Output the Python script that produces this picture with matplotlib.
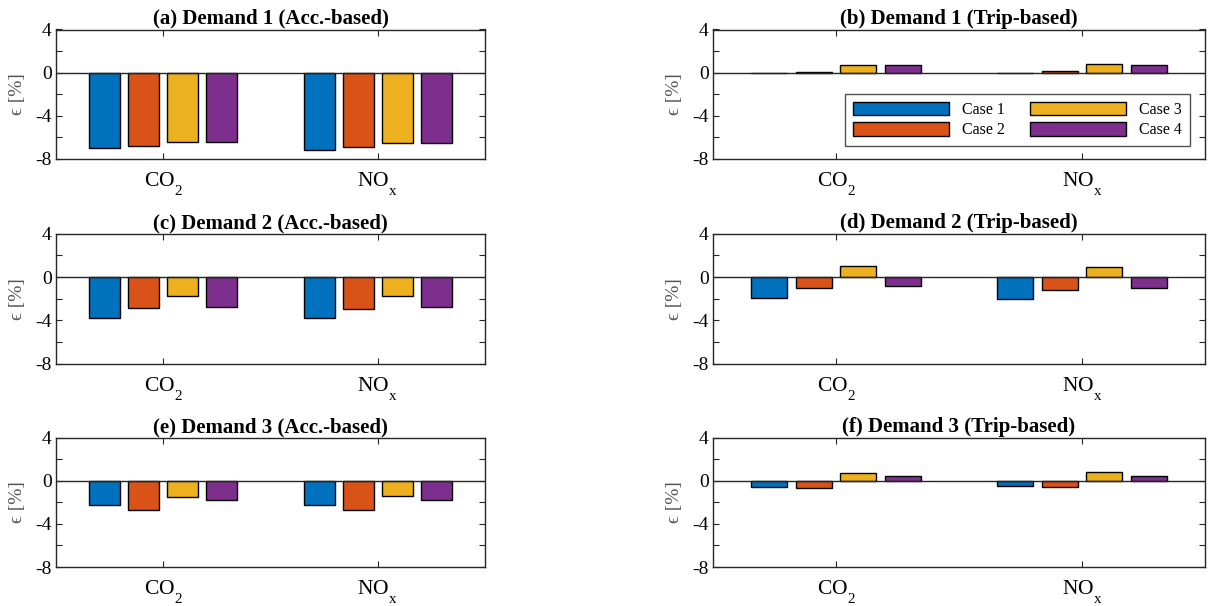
import numpy as np
import matplotlib
matplotlib.use("Agg")
import matplotlib.pyplot as plt
from matplotlib.patches import Patch
import matplotlib._mathtext as _mt

plt.rcParams['font.family'] = ['Liberation Serif', 'DejaVu Serif']
plt.rcParams['mathtext.fontset'] = 'custom'
plt.rcParams['mathtext.rm'] = 'Liberation Serif'
plt.rcParams['mathtext.it'] = 'Liberation Serif:italic'
plt.rcParams['mathtext.bf'] = 'Liberation Serif:bold'
plt.rcParams['axes.unicode_minus'] = False
# lower subscripts a bit more (MATLAB-like)
_mt.FontConstantsBase.sub1 = 0.9
_mt.FontConstantsBase.subdrop = 0.9

categories = ['CO$_2$', 'NO$_{\\mathrm{x}}$']
cases = ['Case 1', 'Case 2', 'Case 3', 'Case 4']
colors = ['#0072BD', '#D95319', '#EDB120', '#7E2F8E']

titles = ['(a) Demand 1 (Acc.-based)', '(b) Demand 1 (Trip-based)',
          '(c) Demand 2 (Acc.-based)', '(d) Demand 2 (Trip-based)',
          '(e) Demand 3 (Acc.-based)', '(f) Demand 3 (Trip-based)']
ylabel = '\u03f5 [%]'

# rows: categories (CO2, NOx); columns: Case 1..4
d1_acc = [[-7.0, -6.8, -6.45, -6.45], [-7.15, -6.88, -6.5, -6.5]]
d1_trip = [[-0.03, 0.04, 0.72, 0.66], [-0.02, 0.15, 0.78, 0.72]]
d2_acc = [[-3.8, -2.9, -1.76, -2.81], [-3.77, -2.96, -1.76, -2.78]]
d2_trip = [[-1.94, -1.03, 1.03, -0.81], [-2.0, -1.22, 0.88, -1.0]]
d3_acc = [[-2.28, -2.69, -1.48, -1.79], [-2.28, -2.69, -1.45, -1.79]]
d3_trip = [[-0.53, -0.66, 0.75, 0.41], [-0.47, -0.62, 0.78, 0.44]]

datasets = [d1_acc, d1_trip, d2_acc, d2_trip, d3_acc, d3_trip]

yticks = [-8, -6, -4, -2, 0, 2, 4]
yticklabels = ['-8', '', '-4', '', '0', '', '4']

W, H = 1218, 606
fig = plt.figure(figsize=(W / 100, H / 100), dpi=100)

col_px = [(56, 485), (713, 1205)]
row_px = [(29.5, 158.7), (233.7, 363.7), (437.7, 567.0)]

txt = '#262626'
nb = len(cases)
gw = min(0.8, nb / (nb + 1.5))
bw = gw / nb * 0.8
xc = np.arange(1, len(categories) + 1)

for i, data in enumerate(datasets):
    r, c = divmod(i, 2)
    x0, x1 = col_px[c]
    yt, yb = row_px[r]
    ax = fig.add_axes([x0 / W, 1 - yb / H, (x1 - x0) / W, (yb - yt) / H])
    arr = np.array(data)
    for j in range(nb):
        off = -gw / 2 + (2 * j + 1) * gw / (2 * nb)
        ax.bar(xc + off, arr[:, j], width=bw, color=colors[j],
               edgecolor='black', linewidth=1.0, label=cases[j], zorder=2)
    ax.axhline(0, color=txt, linewidth=1.0, zorder=3)
    ax.set_xlim(0.5, 2.5)
    ax.set_ylim(-8, 4)
    ax.set_yticks(yticks)
    ax.set_yticklabels(yticklabels, fontsize=14, color='black')
    ax.set_xticks(xc)
    ax.set_xticklabels(categories, fontsize=15.5, color='black')
    ax.tick_params(direction='in', top=True, right=True, length=4,
                   width=0.8, color=txt)
    ax.tick_params(axis='x', pad=8)
    ax.tick_params(axis='y', pad=3)
    for s in ax.spines.values():
        s.set_color(txt)
        s.set_linewidth(1.0)
    ax.set_title(titles[i], fontsize=15, fontweight='bold', pad=4)
    ax.set_ylabel(ylabel, fontsize=14, color='#555555', labelpad=7)
    if i == 1:
        handles = [Patch(facecolor=colors[k], edgecolor='black', linewidth=1.0)
                   for k in range(nb)]
        leg = ax.legend(handles, cases, ncol=2, loc='center',
                        bbox_to_anchor=(0.6185, 0.297), fontsize=11.5,
                        frameon=True, fancybox=False, edgecolor=txt,
                        handlelength=6.0, handleheight=0.9,
                        columnspacing=1.6, labelspacing=0.25,
                        handletextpad=0.8, borderpad=0.5)
        leg.get_frame().set_linewidth(1.0)

fig.savefig('out.png', dpi=100)
